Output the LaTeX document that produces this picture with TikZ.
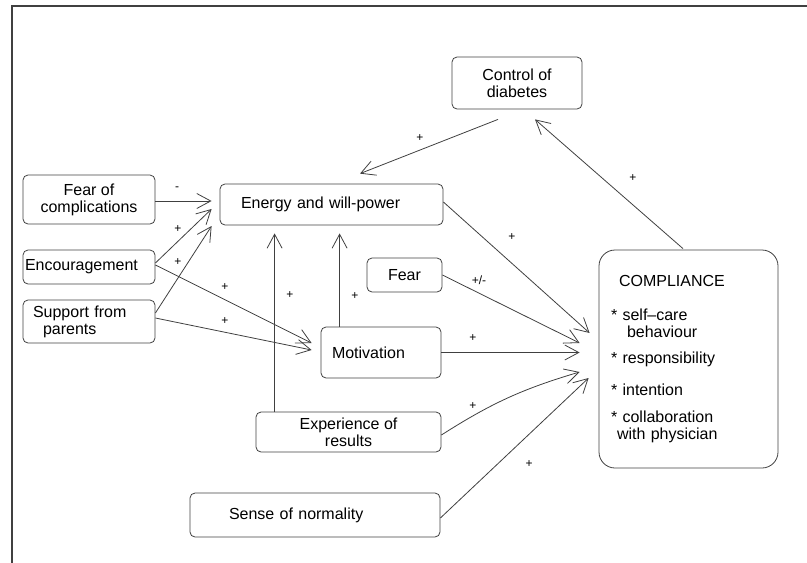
\documentclass[tikz,border=0pt]{standalone}
\usepackage{fontspec}
\setmainfont{Liberation Sans}
\usetikzlibrary{arrows.meta,calc}
\begin{document}
\begin{tikzpicture}[x=1pt,y=-1pt,
  box/.style={draw=black!75, line width=0.8pt, rounded corners=5pt, font=\fontsize{16}{17}\selectfont, inner sep=0pt},
  arr/.style={draw=black!75, line width=0.8pt, -{Straight Barb[length=14pt,width=15pt]}},
  lab/.style={font=\fontsize{12}{13}\selectfont, inner sep=0pt}]
\useasboundingbox (0,0) rectangle (807,563);
\draw[line width=2pt, black!75] (807,6) -- (12,6) -- (12,563);

\node[box, minimum width=130pt, minimum height=52pt, align=center] (ctrl) at (517,83) {Control of\\diabetes};
\node[box, minimum width=223pt, minimum height=41pt, text width=181pt, align=left] (energy) at (331.5,204.5) {Energy and will-power};
\node[box, minimum width=132pt, minimum height=49pt, align=center] (fearc) at (89,199.5) {Fear of\\complications};
\node[box, minimum width=132pt, minimum height=34pt, text width=128pt, align=left] (enc) at (89,267) {Encouragement};
\node[box, minimum width=132pt, minimum height=43pt, text width=112pt, align=left] (sup) at (89,321.5) {Support from\\\hspace*{10pt}parents};
\node[box, minimum width=75pt, minimum height=34pt, align=center] (fear) at (404.5,275) {Fear};
\node[box, minimum width=120pt, minimum height=51pt, text width=98pt, align=left] (mot) at (381,352.5) {Motivation};
\node[box, minimum width=185pt, minimum height=40pt, align=center] (exp) at (348.5,432) {Experience of\\results};
\node[box, minimum width=250pt, minimum height=44pt, text width=172pt, align=left] (sense) at (315,515) {Sense of normality};
\node[box, rounded corners=16pt, minimum width=179pt, minimum height=218pt, text width=155pt, align=left] (comp) at (688.5,359) {\hspace*{8pt}COMPLIANCE\\[17pt]
* self–care\\
\hspace*{16pt}behaviour\\[9pt]
* responsibility\\[15pt]
* intention\\[10pt]
* collaboration\\
\hspace*{6pt}with physician};

\draw[arr] ($(ctrl.south)+(-19,10)$) -- ($(energy.north)+(28.5,-10)$);
\draw[arr] ($(comp.north)+(-5.5,-1)$) -- ($(ctrl.south)+(18,10)$);
\draw[arr] ($(fearc.east)+(0,1.5)$) -- ($(energy.west)+(-8,-3.5)$);
\draw[arr] ($(enc.east)+(0,-4)$) -- ($(energy.west)+(-8,4.5)$);
\draw[arr] ($(sup.east)+(0,-8.5)$) -- ($(energy.west)+(-8,21.5)$);
\draw[arr] ($(enc.east)+(0,-2)$) -- ($(mot.west)+(-9,-9.5)$);
\draw[arr] ($(sup.east)+(0,-3.5)$) -- ($(mot.west)+(-9,-2.5)$);
\draw[arr] ($(exp.north west)+(19,0)$) -- ($(energy.south west)+(55,8)$);
\draw[arr] ($(mot.north west)+(19,0)$) -- ($(energy.south west)+(120,8)$);
\draw[arr] ($(energy.east)+(0,-2.5)$) -- ($(comp.west)+(-9,-26)$);
\draw[arr] (fear.east) -- ($(comp.west)+(-19,-16)$);
\draw[arr] (mot.east) -- ($(comp.west)+(-19,-6.5)$);
\draw[arr] ($(exp.east)+(0,3)$) to[bend left=8] ($(comp.west)+(-19,13)$);
\draw[arr] ($(sense.east)+(0,3)$) -- ($(comp.west)+(-10,19)$);

\node[lab] (l1) at (420,138) {+};
\node[lab] (l2) at (633,178) {+};
\node[lab] (l3) at (512,237) {+};
\node[lab] (l4) at (479,280) {+/-};
\node[lab] (l5) at (177,189) {-};
\node[lab] (l6) at (178,229) {+};
\node[lab] (l7) at (178,262) {+};
\node[lab] (l8) at (225,287) {+};
\node[lab] (l9) at (225,321) {+};
\node[lab] (l10) at (290,295) {+};
\node[lab] (l11) at (355,296) {+};
\node[lab] (l12) at (473,338) {+};
\node[lab] (l13) at (473,406) {+};
\node[lab] (l14) at (529,464) {+};
\end{tikzpicture}
\end{document}
